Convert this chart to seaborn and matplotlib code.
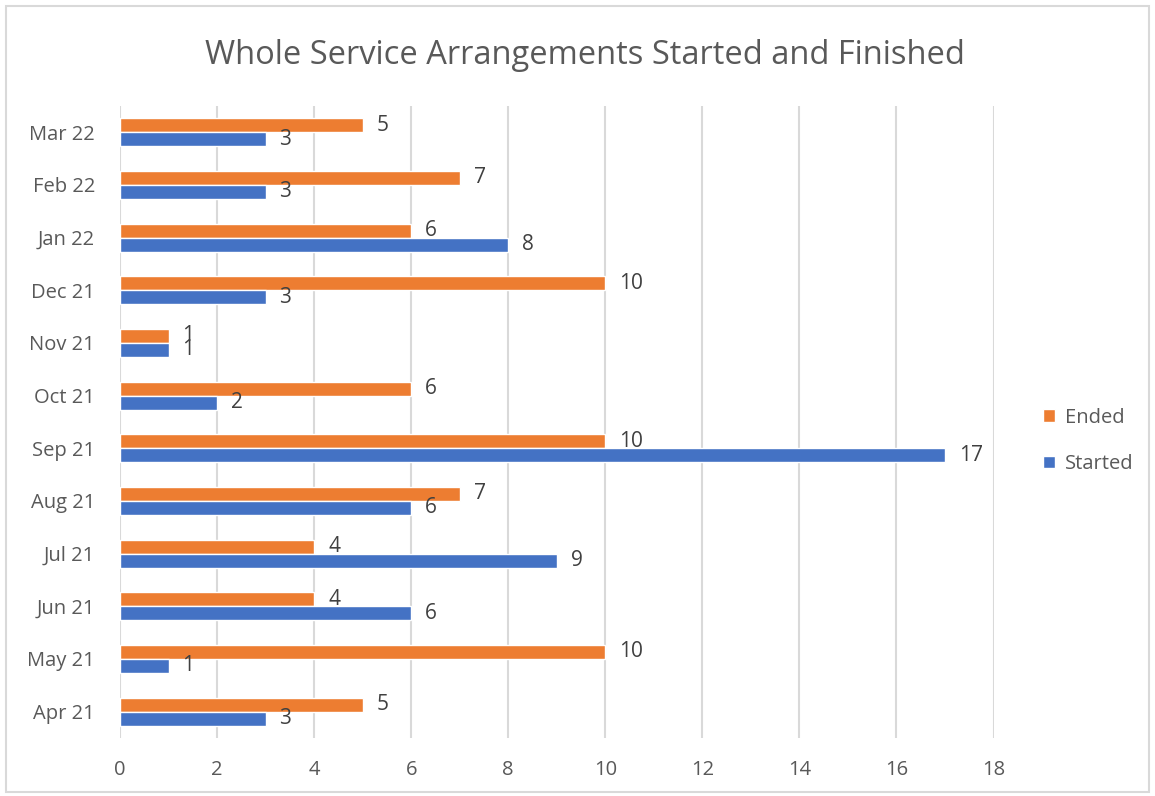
import pandas as pd
import matplotlib.pyplot as plt
import seaborn as sns

# data, Apr 21 -> Mar 22
months = ["Apr 21", "May 21", "Jun 21", "Jul 21", "Aug 21", "Sep 21",
          "Oct 21", "Nov 21", "Dec 21", "Jan 22", "Feb 22", "Mar 22"]
started = [3, 1, 6, 9, 6, 17, 2, 1, 3, 8, 3, 3]
ended = [5, 10, 4, 4, 7, 10, 6, 1, 10, 6, 7, 5]

df = pd.DataFrame({"month": months * 2,
                   "value": ended + started,
                   "series": ["Ended"] * len(months) + ["Started"] * len(months)})

sns.set_theme(style="white")
plt.rcParams["font.family"] = ["Open Sans", "DejaVu Sans"]

fig = plt.figure(figsize=(11.55, 7.96), dpi=100)
ax = fig.add_axes([0.1039, 0.0729, 0.7563, 0.794])

palette = {"Ended": "#ED7D31", "Started": "#4472C4"}
sns.barplot(data=df, y="month", x="value", hue="series", order=months[::-1],
            hue_order=["Ended", "Started"], palette=palette, orient="h",
            width=0.53, saturation=1, ax=ax)

ax.set_xlim(0, 18)
ax.set_xticks(range(0, 19, 2))
ax.grid(axis="x", color="#D9D9D9", linewidth=1.5)
ax.set_axisbelow(True)
for s in ax.spines.values():
    s.set_visible(False)
ax.set_xlabel("")
ax.set_ylabel("")
ax.tick_params(axis="both", length=0, labelsize=14.5, labelcolor="#595959")
ax.tick_params(axis="x", pad=16)
ax.tick_params(axis="y", pad=18)

# value labels
for cont in ax.containers:
    ax.bar_label(cont, padding=10, fontsize=15, color="#404040")

ax.set_title("Whole Service Arrangements Started and Finished", fontsize=23.5,
             color="#595959", pad=30, x=0.532)

ax.legend(loc="center left", bbox_to_anchor=(1.036, 0.47), frameon=False,
          fontsize=14.5, labelcolor="#595959", handlelength=0.6,
          handleheight=0.6, handletextpad=0.5, labelspacing=1.3)

# light outer border like the chart area frame
fig.patches.append(plt.Rectangle((0.005, 0.005), 0.99, 0.988,
                                 transform=fig.transFigure, fill=False,
                                 edgecolor="#D9D9D9", linewidth=1.5))

plt.savefig("out.png", dpi=100)
